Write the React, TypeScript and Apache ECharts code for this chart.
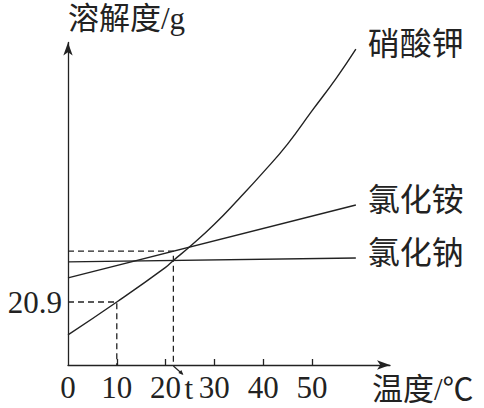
import React, { useEffect, useRef } from "react";
import * as echarts from "echarts";

// Temperature (°C) / solubility (g) readings
const kno3Temps = [0, 10, 20, 21.6, 25, 30, 35, 40, 45, 50, 55, 59];
const kno3Values = [10, 20.9, 32.4, 34.7, 39.3, 46.7, 55.1, 63.9, 73.3, 84.3, 95.2, 104.8];
const nh4clTemps = [0, 59];
const nh4clValues = [28.9, 53.1];
const naclTemps = [0, 59];
const naclValues = [34.2, 35.5];

const seriesNames = ["硝酸钾", "氯化铵", "氯化钠"];
const xTickValues = [10, 20, 30, 40, 50];
const xLabelValues = [0, 10, 20, 30, 40, 50];
const yLabelValues = [20.9];
const markTemp = 10;
const markValue = 20.9;
const tTemp = 21.6;
const tLevel = 37.8;

const SERIF = "'Liberation Serif', 'Times New Roman', 'Noto Sans CJK SC', serif";
const CJK = "'Liberation Serif', 'Noto Sans CJK SC', serif";
const INK = "#222";

function pairs(xs: number[], ys: number[]) {
  return xs.map((x, i) => [x, ys[i]]);
}

export default function App() {
  const ref = useRef<HTMLDivElement>(null);
  useEffect(() => {
    if (!ref.current) return;
    const chart = echarts.init(ref.current, null, { renderer: "svg" });
    const lineStyle = { color: INK, width: 1.4 };
    const dashStyle = { color: INK, width: 1.3, type: [6, 4] as any };
    const endLabel = (name: string) => ({
      show: true,
      formatter: name,
      distance: 12,
      offset: [0, -5],
      fontSize: 32,
      color: INK,
      fontFamily: CJK,
    });
    chart.setOption({
      animation: false,
      backgroundColor: "#fff",
      grid: { left: 68, top: 42.5, width: 322, height: 322.5 },
      xAxis: {
        type: "value",
        min: 0,
        max: 66,
        interval: 10,
        name: "温度/℃",
        nameLocation: "end",
        nameGap: -18,
        nameTextStyle: {
          fontSize: 31,
          color: INK,
          fontFamily: CJK,
          align: "left",
          verticalAlign: "top",
          padding: [9, 0, 0, 0],
        },
        axisLine: {
          show: true,
          symbol: ["none", "arrow"],
          symbolSize: [7, 13],
          lineStyle: { color: INK, width: 1.3 },
        },
        axisTick: {
          show: true,
          inside: true,
          length: 6,
          customValues: xTickValues,
          lineStyle: { color: INK, width: 1.3 },
        },
        axisLabel: {
          show: true,
          customValues: xLabelValues,
          fontSize: 31,
          color: INK,
          fontFamily: SERIF,
          margin: 7,
        },
        splitLine: { show: false },
      },
      yAxis: {
        type: "value",
        min: 0,
        max: 107,
        name: "溶解度/g",
        nameLocation: "end",
        nameGap: 9,
        nameTextStyle: {
          fontSize: 31,
          color: INK,
          fontFamily: CJK,
          align: "left",
          verticalAlign: "bottom",
        },
        axisLine: {
          show: true,
          symbol: ["none", "arrow"],
          symbolSize: [7, 13],
          lineStyle: { color: INK, width: 1.3 },
        },
        axisTick: { show: false },
        axisLabel: {
          show: true,
          customValues: yLabelValues,
          fontSize: 31,
          color: INK,
          fontFamily: SERIF,
          margin: 6,
        },
        splitLine: { show: false },
      },
      series: [
        {
          type: "line",
          name: seriesNames[0],
          data: pairs(kno3Temps, kno3Values),
          smooth: 0.5,
          showSymbol: false,
          symbol: "none",
          lineStyle,
          endLabel: endLabel(seriesNames[0]),
        },
        {
          type: "line",
          name: seriesNames[1],
          data: pairs(nh4clTemps, nh4clValues),
          showSymbol: false,
          symbol: "none",
          lineStyle,
          endLabel: endLabel(seriesNames[1]),
        },
        {
          type: "line",
          name: seriesNames[2],
          data: pairs(naclTemps, naclValues),
          showSymbol: false,
          symbol: "none",
          lineStyle,
          endLabel: endLabel(seriesNames[2]),
        },
        {
          type: "line",
          data: [
            [0, markValue],
            [markTemp, markValue],
            [markTemp, 0],
          ],
          showSymbol: false,
          symbol: "none",
          lineStyle: dashStyle,
        },
        {
          type: "line",
          data: [
            [0, tLevel],
            [tTemp, tLevel],
            [tTemp, 0],
          ],
          showSymbol: false,
          symbol: "none",
          lineStyle: dashStyle,
        },
      ],
    });
    const p = chart.convertToPixel({ gridIndex: 0 }, [tTemp, 0]) as number[];
    chart.setOption({
      graphic: [
        {
          type: "line",
          shape: { x1: p[0], y1: p[1] + 1, x2: p[0] + 9, y2: p[1] + 9 },
          style: { stroke: INK, lineWidth: 1.1 },
        },
        {
          type: "polygon",
          shape: {
            points: [
              [p[0] + 10, p[1] + 10],
              [p[0] + 5, p[1] + 8],
              [p[0] + 8, p[1] + 5],
            ],
          },
          style: { fill: INK },
        },
        {
          type: "text",
          x: p[0] + 11,
          y: p[1] + 23,
          style: {
            text: "t",
            fontSize: 31,
            fontFamily: SERIF,
            fill: INK,
            align: "left",
            verticalAlign: "middle",
          },
        },
      ],
    });
    return () => chart.dispose();
  }, []);
  return (
    <div
      ref={ref}
      style={{ position: "fixed", left: 0, top: 0, width: 484, height: 408, background: "#fff" }}
    />
  );
}
